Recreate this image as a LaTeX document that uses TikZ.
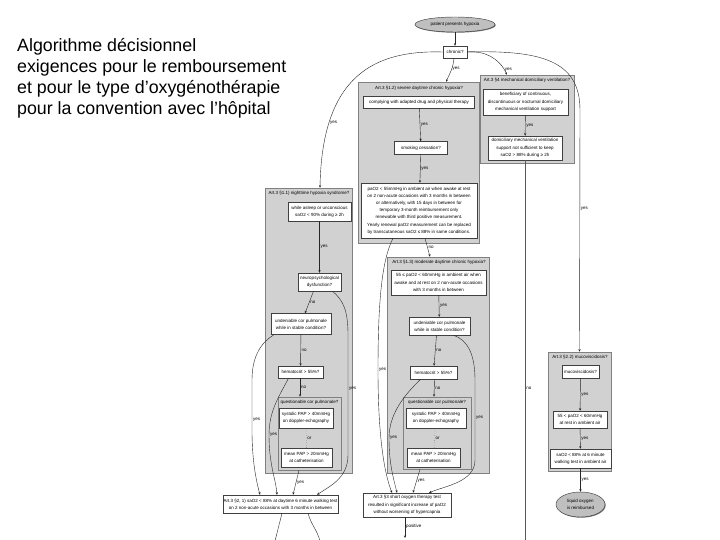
\documentclass[tikz,border=0pt]{standalone}
\usepackage{fontspec}
\setmainfont{Liberation Sans}
\usetikzlibrary{arrows.meta,shapes.geometric,shadows}
\begin{document}
\begin{tikzpicture}[x=1pt,y=-1pt,
  tiny/.style={font=\fontsize{4.5}{7.2}\selectfont},
  box/.style={tiny, rectangle, draw=black!75, fill=white, line width=0.45pt, inner sep=0.6pt, align=center,
     drop shadow={shadow xshift=0.7pt,shadow yshift=-0.7pt,fill=black!55,opacity=1}},
  oval/.style={tiny, ellipse, draw=black!75, fill=black!25, line width=0.45pt, inner sep=0pt, align=center,
     drop shadow={shadow xshift=0.7pt,shadow yshift=-0.7pt,fill=black!55,opacity=1}},
  cluster/.style={rectangle, draw=black!50, fill=black!18, line width=0.5pt, inner sep=0pt,
     drop shadow={shadow xshift=1.4pt,shadow yshift=-1.4pt,fill=black!45,opacity=1}},
  ctitle/.style={tiny, inner sep=0pt},
  arr/.style={draw=black!85, line width=0.4pt, -{Stealth[length=2.6pt,width=2.2pt]}},
  plainline/.style={draw=black!85, line width=0.4pt},
  orline/.style={draw=black!70, line width=0.4pt, dotted},
  thickline/.style={draw=black!65, line width=1pt},
  lab/.style={tiny, inner sep=0.8pt},
  titletext/.style={font=\fontsize{17.8}{21}\selectfont, inner sep=0pt, anchor=base west}
]
\useasboundingbox (0,0) rectangle (720,540);
\fill[white] (0,0) rectangle (720,540);

% title
\node[titletext] (t1) at (17,52) {Algorithme décisionnel};
\node[titletext] (t2) at (17,73) {exigences pour le remboursement};
\node[titletext] (t3) at (17,94) {et pour le type d’oxygénothérapie};
\node[titletext] (t4) at (17,115) {pour la convention avec l’hôpital};

% clusters
\node[cluster, minimum width=121pt, minimum height=161pt] (cA) at (418.5,162.5) {};
\node[cluster, minimum width=94pt, minimum height=88pt] (cB) at (527,119) {};
\node[cluster, minimum width=87pt, minimum height=285pt] (cC) at (308.5,330.5) {};
\node[cluster, minimum width=102pt, minimum height=216pt] (cD) at (438,365) {};
\node[cluster, minimum width=63pt, minimum height=73pt] (cC5) at (309.5,433.5) {};
\node[cluster, minimum width=68pt, minimum height=72pt] (cD4) at (437,433) {};
\node[cluster, minimum width=63pt, minimum height=119pt] (cG) at (579.5,411.5) {};

\node[ctitle] (cAt) at (419,88) {Art.3 §1.2) severe daytime chronic hypoxia?};
\node[ctitle] (cBt) at (527,80.5) {Art.3 §4 mechanical domiciliary ventilation?};
\node[ctitle] (cCt) at (309,193.5) {Art.3 §1.1) nighttime hypoxia syndrome?};
\node[ctitle] (cDt) at (439,262.5) {Art.3 §1.3) moderate daytime chronic hypoxia?};
\node[ctitle] (cC5t) at (309.5,402.5) {questionable cor pulmonale?};
\node[ctitle] (cD4t) at (437,402.5) {questionable cor pulmonale?};
\node[ctitle] (cGt) at (580,357.5) {Art.3 §2.2) mucoviscidosis?};

% nodes
\node[oval, minimum width=80pt, minimum height=15pt] (start) at (455,24.5) {patient presents hypoxia};
\node[box, minimum width=24pt, minimum height=12pt] (chronic) at (455,52) {chronic?};

\node[box, minimum width=111pt, minimum height=12pt] (A1) at (419,102) {complying with adapted drug and physical therapy};
\node[box, minimum width=53pt, minimum height=13pt] (A2) at (421,148) {smoking cessation?};
\node[box, minimum width=116pt, minimum height=55pt] (A3) at (419,210.5) {paO2 < 55mmHg in ambient air when awake at rest\\on 2 non-acute occasions with 3 months in between\\or alternatively, with 15 days in between for\\temporary 3-month reimbursement only\\renewable with third positive measurement.\\Yearly renewal paO2 measurement can be replaced\\by transcutaneous saO2 ≤ 88\% in same conditions.};

\node[box, minimum width=85pt, minimum height=26pt] (B1) at (525.5,102) {beneficiary of continuous,\\discontinuous or nocturnal domiciliary\\mechanical ventilation support};
\node[box, minimum width=74pt, minimum height=24pt] (B2) at (525,148) {domiciliary mechanical ventilation\\support not sufficient to keep\\saO2 > 88\% during ≥ 2h};

\node[box, minimum width=63pt, minimum height=19pt] (C1) at (319.5,211.5) {while asleep or unconscious\\saO2 < 90\% during ≥ 2h};
\node[box, minimum width=43pt, minimum height=18pt] (C2) at (319.5,282) {neuropsychological\\dysfunction?};
\node[box, minimum width=60pt, minimum height=21pt] (C3) at (301,324) {undeniable cor pulmonale\\while in stable condition?};
\node[box, minimum width=45pt, minimum height=12pt] (C4) at (300.5,372) {hematocrit > 55\%?};
\node[box, minimum width=54pt, minimum height=20pt] (C6) at (306,418) {systolic PAP > 40mmHg\\on doppler-echography};
\node[box, minimum width=51pt, minimum height=19pt] (C7) at (306.5,457.5) {mean PAP > 20mmHg\\at catheterisation};

\node[box, minimum width=95pt, minimum height=25pt] (D1) at (438.5,282.5) {55 ≤ paO2 < 60mmHg in ambient air when\\awake and at rest on 2 non-acute occasions\\with 3 months in between};
\node[box, minimum width=61pt, minimum height=18pt] (D2) at (439.5,326) {undeniable cor pulmonale\\while in stable condition?};
\node[box, minimum width=47pt, minimum height=13pt] (D3) at (433.5,372.5) {hematocrit > 55\%?};
\node[box, minimum width=60pt, minimum height=20pt] (D5) at (436,418) {systolic PAP > 40mmHg\\on doppler-echography};
\node[box, minimum width=53pt, minimum height=19pt] (D6) at (433.5,457.5) {mean PAP > 20mmHg\\at catheterisation};

\node[box, minimum width=113pt, minimum height=18pt] (E) at (280.5,504) {Art.3 §2, 1) saO2 < 88\% at daytime 6 minute walking test\\on 2 non-acute occasions with 3 months in between};
\node[box, minimum width=88pt, minimum height=24pt] (F) at (407,505) {Art.3 §3 short oxygen therapy test\\resulted in significant increase of paO2\\without worsening of hypercapnia};

\node[box, minimum width=37pt, minimum height=13pt] (G1) at (580.5,371.5) {mucoviscidosis?};
\node[box, minimum width=54pt, minimum height=17pt] (G2) at (580,419.5) {55 < paO2 < 60mmHg\\at rest in ambient air};
\node[box, minimum width=61pt, minimum height=19pt] (G3) at (580.5,458.5) {saO2 < 88\% at 6 minute\\walking test in ambient air};
\node[oval, minimum width=49pt, minimum height=25pt] (G4) at (580.5,504.5) {liquid oxygen\\is reimbursed};

\coordinate (outB) at (525,541);
\coordinate (outF) at (405,538);
\coordinate (outE1) at (275,541);
\coordinate (outE2) at (320,541);

% edges
\draw[arr] (start) -- (chronic);
\draw[arr] ([xshift=-1pt]chronic.south) to[out=-95,in=65] node[lab,right,pos=0.45]{yes} ([xshift=27.5pt]cA.north);
\draw[arr] (chronic.east) to[out=5,in=115] node[lab,right,pos=0.88]{yes} ([xshift=-20pt]cB.north);
\draw[arr] (chronic.west) .. controls (375,50) and (322,75) .. node[lab,right,pos=0.77]{yes} ([xshift=11.5pt]cC.north);
\draw[arr] (chronic.east) .. controls (540,50) and (580,60) .. (580,110) -- node[lab,right,pos=0.41]{yes} (cG.north);

\draw[arr] (A1) -- node[lab,right]{yes} (A2);
\draw[arr] (A2) -- node[lab,right]{yes} (A3);
\draw[arr] ([xshift=6pt]A3.south) -- node[lab,right]{no} ([xshift=-8pt]cD.north);
\draw[arr] ([xshift=-26pt]A3.south) .. controls (382,260) and (378,300) .. (378,370) node[lab,right]{yes} .. controls (378,440) and (385,475) .. ([xshift=-15pt]F.north);

\draw[arr] (B1) -- node[lab,right]{yes} (B2);
\draw[thickline] (B2.south) -- node[lab,right,pos=0.6]{no} (outB);

\draw[arr] (C1) -- node[lab,right]{yes} (C2);
\draw[arr] ([xshift=-6pt]C2.south) -- node[lab,right]{no} ([xshift=4pt]C3.north);
\draw[arr] ([xshift=13pt]C2.south) .. controls (343,300) and (348,310) .. (348,335) -- node[lab,right,pos=0.45]{yes} (348,455) .. controls (348,478) and (330,486) .. ([xshift=36.5pt]E.north);
\draw[arr] (C3) -- node[lab,right]{no} (C4);
\draw[arr] ([xshift=-27pt]C3.south) .. controls (262,342) and (252,355) .. (252,380) -- node[lab,right,pos=0.8]{yes} (252,430) .. controls (252,460) and (256,480) .. ([xshift=-20.5pt]E.north);
\draw[arr] ([xshift=-0.5pt]C4.south) -- node[lab,right]{no} ([xshift=-9.5pt]cC5.north);
\draw[arr] ([xshift=-12pt]C4.south) .. controls (280,395) and (269,410) .. (269,435) node[lab,right]{yes} .. controls (269,465) and (276,480) .. ([xshift=-3.5pt]E.north);
\draw[orline] (C6) -- node[lab,right]{or} (C7);
\draw[arr] ([xshift=-10.5pt]cC5.south) -- node[lab,right]{yes} ([xshift=12.5pt]E.north);

\draw[arr] (D1) -- node[lab,right]{yes} (D2);
\draw[arr] ([xshift=-3pt]D2.south) -- node[lab,right]{no} (D3);
\draw[arr] ([xshift=14pt]D2.south) .. controls (468,340) and (475,355) .. (475,380) -- node[lab,right,pos=0.475]{yes} (475,460) .. controls (475,482) and (445,486) .. ([xshift=22pt]F.north);
\draw[arr] ([xshift=1pt]D3.south) -- node[lab,right]{no} ([xshift=-3pt]cD4.north);
\draw[arr] ([xshift=-13pt]D3.south) .. controls (410,390) and (389,410) .. (389,438) node[lab,right]{yes} .. controls (389,465) and (394,480) .. ([xshift=-10pt]F.north);
\draw[orline] (D5) -- node[lab,right]{or} (D6);
\draw[arr] ([xshift=-17pt]cD4.south) -- node[lab,right]{yes} ([xshift=6pt]F.north);

\draw[arr] ([xshift=-2pt]F.south) -- node[lab,right,pos=0.45]{positive} (outF);
\draw[plainline] ([xshift=1.5pt]E.south) -- (outE1);
\draw[plainline] ([xshift=27.5pt]E.south) to[out=-75,in=105] (outE2);

\draw[arr] (G1) -- node[lab,right]{yes} (G2);
\draw[arr] (G2) -- node[lab,right]{yes} (G3);
\draw[arr] (G3) -- node[lab,right]{yes} (G4);
\end{tikzpicture}
\end{document}
